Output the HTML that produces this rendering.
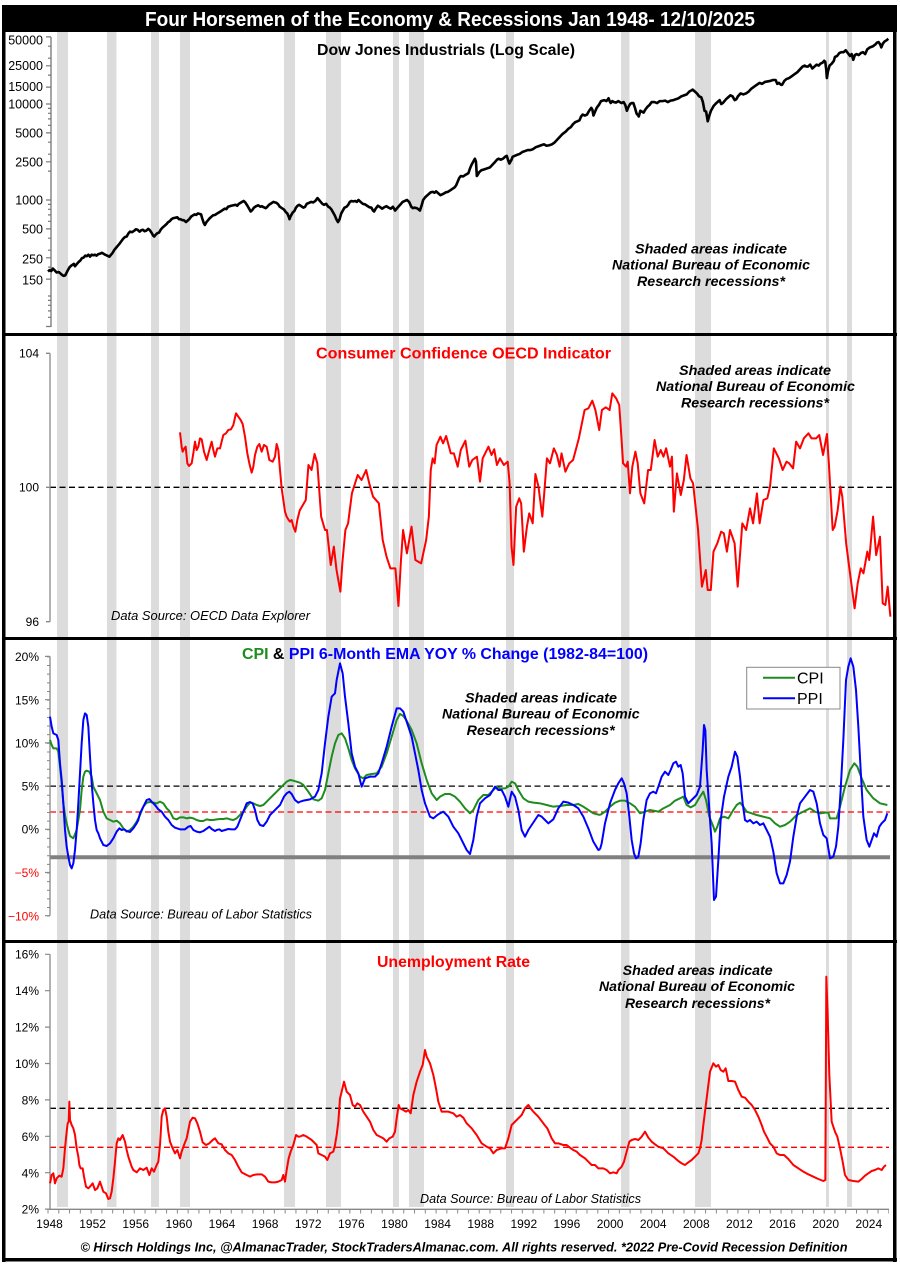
<!DOCTYPE html>
<html><head><meta charset="utf-8">
<style>html,body{margin:0;padding:0;background:#fff;width:900px;height:1265px;overflow:hidden}svg{display:block}</style>
</head><body>
<svg xmlns="http://www.w3.org/2000/svg" width="900" height="1265" viewBox="0 0 900 1265" font-family="'Liberation Sans', Arial, sans-serif">
<rect x="0" y="0" width="900" height="1265" fill="#fff"/>

<!-- recession bands -->
<g fill="#dcdcdc">
<rect x="57" y="32" width="11" height="1175"/>
<rect x="107" y="32" width="9.5" height="1175"/>
<rect x="151" y="32" width="8" height="1175"/>
<rect x="180" y="32" width="10" height="1175"/>
<rect x="284" y="32" width="11" height="1175"/>
<rect x="326" y="32" width="15" height="1175"/>
<rect x="393" y="32" width="6" height="1175"/>
<rect x="409" y="32" width="15" height="1175"/>
<rect x="506" y="32" width="8" height="1175"/>
<rect x="621" y="32" width="8.5" height="1175"/>
<rect x="695" y="32" width="16" height="1175"/>
<rect x="826" y="32" width="3" height="1175"/>
<rect x="847" y="32" width="5" height="1175"/>
</g>

<!-- ================= PANEL 1 : DOW ================= -->
<path d="M51,37V327" stroke="#777" stroke-width="1.3" fill="none"/>
<path d="M46,36.9H51M48,46.2H51M48,58.2H51M46,65.8H51M48,75.1H51M46,87.1H51M46,104H51M48,108.4H51M48,113.3H51M48,118.9H51M48,125.3H51M46,132.9H51M48,142.2H51M48,154.2H51M46,161.8H51M48,171.1H51M46,200H51M48,204.4H51M48,209.3H51M48,214.9H51M48,221.3H51M46,228.9H51M48,238.2H51M48,250.2H51M46,257.8H51M48,267.1H51M46,279.1H51M48,296H51M48,300.4H51M48,305.3H51M48,310.9H51M48,317.3H51M46,326.5H51" stroke="#777" stroke-width="1.2" fill="none"/>
<g font-size="12.5" text-anchor="end" fill="#000">
<text x="43" y="44.5">50000</text>
<text x="43" y="70">25000</text>
<text x="43" y="91">15000</text>
<text x="43" y="108.5">10000</text>
<text x="43" y="137.5">5000</text>
<text x="43" y="166.5">2500</text>
<text x="43" y="204.5">1000</text>
<text x="43" y="233.5">500</text>
<text x="43" y="263.5">250</text>
<text x="43" y="284.5">150</text>
</g>
<g transform="translate(48,488) scale(10.78,-96)">
<polyline fill="none" stroke="#000" stroke-width="2.6" stroke-linejoin="round" vector-effect="non-scaling-stroke" points="0,2.255 0.15,2.27 0.3,2.26 0.45,2.285 0.6,2.27 0.8,2.245 1.0,2.25 1.15,2.235 1.3,2.22 1.45,2.21 1.6,2.215 1.8,2.26 2.0,2.30 2.2,2.32 2.4,2.335 2.5,2.31 2.65,2.33 2.8,2.35 3.0,2.37 3.15,2.395 3.3,2.40 3.45,2.42 3.6,2.415 3.75,2.43 3.9,2.41 4.05,2.43 4.2,2.425 4.35,2.43 4.5,2.42 4.65,2.435 4.8,2.44 5.0,2.45 5.15,2.44 5.3,2.43 5.5,2.42 5.7,2.41 5.85,2.43 6.0,2.45 6.15,2.48 6.3,2.50 6.45,2.52 6.6,2.54 6.8,2.57 7.0,2.60 7.15,2.615 7.3,2.62 7.45,2.65 7.6,2.67 7.8,2.665 8.0,2.68 8.15,2.695 8.3,2.69 8.5,2.67 8.65,2.685 8.8,2.69 8.95,2.675 9.1,2.68 9.3,2.70 9.45,2.685 9.6,2.66 9.75,2.63 9.85,2.62 10.0,2.64 10.15,2.655 10.3,2.66 10.45,2.69 10.6,2.71 10.8,2.73 11.0,2.75 11.15,2.77 11.3,2.78 11.45,2.80 11.6,2.81 11.8,2.815 12.0,2.82 12.15,2.80 12.3,2.80 12.45,2.79 12.6,2.79 12.8,2.77 12.95,2.785 13.1,2.80 13.3,2.83 13.45,2.84 13.6,2.85 13.75,2.845 13.9,2.86 14.05,2.855 14.2,2.85 14.3,2.81 14.45,2.76 14.55,2.74 14.7,2.77 14.85,2.79 15.0,2.81 15.15,2.825 15.3,2.84 15.5,2.845 15.7,2.86 15.85,2.87 16.0,2.88 16.2,2.895 16.4,2.91 16.55,2.905 16.7,2.93 16.85,2.935 17.0,2.94 17.2,2.945 17.4,2.95 17.55,2.94 17.7,2.96 17.85,2.97 18.0,2.98 18.15,2.99 18.3,2.975 18.5,2.94 18.65,2.91 18.8,2.88 18.95,2.895 19.1,2.92 19.3,2.935 19.5,2.945 19.7,2.93 19.85,2.935 20.0,2.925 20.2,2.915 20.35,2.93 20.5,2.95 20.7,2.965 20.9,2.98 21.05,2.975 21.2,2.97 21.35,2.955 21.5,2.93 21.7,2.915 21.9,2.90 22.05,2.875 22.2,2.86 22.35,2.82 22.4,2.80 22.5,2.83 22.7,2.87 22.85,2.885 23.0,2.92 23.15,2.94 23.3,2.95 23.5,2.935 23.7,2.92 23.85,2.93 24.0,2.96 24.2,2.97 24.4,2.98 24.6,2.975 24.8,2.99 25.0,3.02 25.15,3.0 25.3,2.98 25.45,2.96 25.6,2.95 25.8,2.96 26.0,2.93 26.15,2.92 26.3,2.90 26.45,2.87 26.6,2.84 26.75,2.80 26.9,2.77 27.05,2.80 27.2,2.86 27.35,2.89 27.5,2.92 27.7,2.93 27.85,2.95 28.0,2.98 28.15,2.99 28.3,2.985 28.5,2.99 28.65,2.98 28.8,3.0 29.0,2.98 29.2,2.96 29.4,2.955 29.6,2.94 29.8,2.925 30.0,2.92 30.15,2.89 30.25,2.88 30.4,2.91 30.6,2.94 30.75,2.93 31.0,2.91 31.2,2.925 31.4,2.935 31.6,2.92 31.8,2.91 32.0,2.93 32.2,2.89 32.35,2.91 32.5,2.93 32.7,2.955 32.9,2.98 33.1,2.99 33.3,3.0 33.5,2.98 33.7,2.93 33.85,2.915 34.0,2.92 34.2,2.915 34.35,2.905 34.5,2.89 34.65,2.94 34.8,3.0 35.0,3.03 35.2,3.05 35.4,3.07 35.5,3.08 35.7,3.085 35.85,3.075 36.0,3.09 36.2,3.07 36.4,3.05 36.6,3.06 36.9,3.08 37.1,3.085 37.3,3.10 37.5,3.115 37.7,3.13 37.85,3.15 38.0,3.19 38.15,3.23 38.3,3.25 38.5,3.245 38.7,3.26 38.85,3.27 39.0,3.28 39.15,3.33 39.3,3.37 39.45,3.40 39.6,3.43 39.7,3.40 39.78,3.25 39.85,3.26 40.0,3.29 40.2,3.31 40.5,3.32 40.75,3.33 41.0,3.34 41.25,3.37 41.5,3.40 41.65,3.42 41.8,3.43 42.0,3.42 42.2,3.43 42.4,3.45 42.55,3.46 42.7,3.41 42.8,3.38 43.0,3.42 43.1,3.45 43.3,3.46 43.5,3.47 43.75,3.48 44.0,3.50 44.25,3.51 44.5,3.52 44.75,3.52 45.0,3.53 45.25,3.55 45.5,3.56 45.75,3.57 46.0,3.58 46.25,3.565 46.5,3.57 46.75,3.58 47.0,3.60 47.25,3.63 47.5,3.66 47.75,3.69 48.0,3.71 48.25,3.74 48.5,3.76 48.7,3.79 48.9,3.81 49.1,3.82 49.3,3.83 49.45,3.87 49.6,3.89 49.8,3.88 50.0,3.89 50.2,3.93 50.4,3.96 50.5,3.94 50.6,3.88 50.75,3.92 50.9,3.96 51.1,3.99 51.3,4.03 51.45,4.035 51.6,4.04 51.8,4.03 52.0,4.06 52.1,4.03 52.2,4.01 52.35,4.03 52.5,4.02 52.7,4.015 52.9,4.03 53.05,4.02 53.2,4.01 53.4,4.02 53.55,3.99 53.7,3.93 53.85,3.97 54.0,4.0 54.15,4.01 54.3,4.01 54.45,3.96 54.6,3.90 54.75,3.88 54.8,3.87 54.95,3.93 55.1,3.92 55.25,3.91 55.4,3.94 55.6,3.97 55.8,3.99 56.0,4.02 56.25,4.02 56.5,4.01 56.75,4.03 57.0,4.03 57.25,4.035 57.5,4.02 57.75,4.035 58.0,4.04 58.25,4.05 58.5,4.06 58.75,4.08 59.0,4.09 59.25,4.10 59.5,4.13 59.65,4.14 59.8,4.15 60.0,4.13 60.2,4.11 60.4,4.08 60.6,4.07 60.75,4.02 60.9,3.93 61.05,3.92 61.2,3.82 61.35,3.88 61.5,3.93 61.75,3.98 62.0,4.01 62.2,4.03 62.3,4.04 62.45,4.00 62.6,4.01 62.9,4.05 63.1,4.07 63.3,4.09 63.5,4.08 63.7,4.04 63.85,4.05 64.0,4.08 64.25,4.11 64.5,4.10 64.75,4.11 65.0,4.13 65.25,4.16 65.5,4.18 65.75,4.20 66.0,4.22 66.25,4.21 66.5,4.23 66.75,4.235 67.0,4.24 67.25,4.25 67.5,4.25 67.65,4.21 67.8,4.22 68.0,4.20 68.1,4.20 68.3,4.24 68.5,4.26 68.75,4.27 69.0,4.29 69.25,4.31 69.5,4.33 69.75,4.36 70.0,4.39 70.2,4.40 70.35,4.39 70.5,4.39 70.7,4.41 70.9,4.37 71.1,4.39 71.3,4.41 71.5,4.40 71.65,4.42 71.85,4.43 72.0,4.45 72.1,4.44 72.2,4.35 72.25,4.27 72.35,4.34 72.5,4.40 72.7,4.42 72.9,4.45 73.0,4.49 73.2,4.50 73.4,4.53 73.6,4.54 73.8,4.54 74.0,4.56 74.2,4.53 74.4,4.50 74.55,4.52 74.7,4.46 74.85,4.51 75.0,4.52 75.2,4.51 75.4,4.53 75.6,4.54 75.8,4.52 76.0,4.57 76.25,4.59 76.5,4.60 76.75,4.62 76.9,4.64 77.05,4.645 77.2,4.62 77.3,4.59 77.45,4.63 77.6,4.65 77.8,4.665 77.95,4.68"/>
</g>
<text x="317" y="55" font-size="16" font-weight="bold" textLength="258" lengthAdjust="spacingAndGlyphs">Dow Jones Industrials (Log Scale)</text>
<g font-size="14" font-weight="bold" font-style="italic" fill="#000">
<text x="635" y="253.5" textLength="152" lengthAdjust="spacingAndGlyphs">Shaded areas indicate</text>
<text x="612" y="269.5" textLength="198" lengthAdjust="spacingAndGlyphs">National Bureau of Economic</text>
<text x="637" y="286" textLength="148" lengthAdjust="spacingAndGlyphs">Research recessions*</text>
</g>

<!-- ================= PANEL 2 : CONSUMER CONFIDENCE ================= -->
<line x1="50" y1="487.3" x2="892" y2="487.3" stroke="#000" stroke-width="1.3" stroke-dasharray="6 3.5"/>
<path d="M50,353.3V621.7M46,353.3H50M46,487.3H50M46,621.7H50" stroke="#888" stroke-width="1.3" fill="none"/>
<g font-size="12" text-anchor="end">
<text x="39" y="357.5">104</text>
<text x="39" y="491.5">100</text>
<text x="39" y="626">96</text>
</g>
<g transform="translate(0,320) scale(0.333333)">
<polyline fill="none" stroke="#ff0000" stroke-width="2" stroke-linejoin="round" vector-effect="non-scaling-stroke" points="540,337 545,380 548,395 553,385 557,380 562,430 567,438 575,430 580,400 585,365 590,390 595,380 600,355 605,358 612,395 620,420 628,390 635,365 640,390 645,410 652,385 660,385 665,365 670,345 678,340 685,330 693,328 700,315 708,280 715,290 722,300 728,312 735,350 742,400 748,430 755,458 760,440 765,405 772,380 778,372 785,395 792,375 800,380 808,420 818,425 825,410 830,372 835,390 840,450 845,505 850,540 855,575 860,590 866,600 870,605 875,600 880,620 886,635 892,600 900,568"/>
</g>
<g transform="translate(300,330) scale(0.384615,0.333333)">
<polyline fill="none" stroke="#ff0000" stroke-width="2" stroke-linejoin="round" vector-effect="non-scaling-stroke" points="0,540 15,510 22,405 30,420 38,372 45,400 55,560 65,600 70,600 80,705 88,650 95,720 105,785 110,700 118,600 125,580 135,490 150,435 160,450 172,420 180,460 190,500 205,520 215,630 225,680 235,715 248,715 256,828 262,700 268,600 278,670 290,590 300,690 315,700 328,630 335,560 340,420 345,385 350,400 355,345 365,320 372,340 380,318 392,370 400,370 410,410 418,360 430,332 440,410 448,390 460,380 468,455 475,385 490,350 498,375 505,358 512,405 520,385 530,405 540,395 545,460 550,650 555,705 562,530 570,505 575,520 582,665 590,590 596,550 605,580 612,432 620,470 630,560 635,490 642,385 650,400 660,355 668,375 675,410 680,370 690,425 700,400 710,390 725,325 740,240 750,235 760,212 768,240 778,300 785,240 795,232 805,240 812,190 822,205 830,225 835,310 840,400 848,410 852,395 858,490 864,410 872,365 878,400 885,490 895,520 905,420 912,420 922,330 930,380 938,360 945,380 952,355 962,410 967,380 972,545 980,430 990,495 998,450 1005,375 1015,445 1022,460 1035,600 1045,770 1055,720 1060,780 1068,780 1075,665 1085,640 1095,605 1102,610 1110,665 1118,600 1130,640 1138,770 1150,580 1160,600 1170,535 1178,580 1188,490 1195,580 1205,510 1215,505 1222,470 1232,355 1245,385 1255,420 1265,395 1272,400 1282,415 1290,335 1300,355 1310,325 1322,310 1330,325 1342,325 1350,315 1360,375 1370,312 1375,400 1380,500 1385,600 1390,590 1398,540 1405,470 1410,500 1420,640 1430,730 1442,835 1450,760 1458,715 1465,730 1475,665 1480,690 1490,560 1498,675 1508,620 1515,820 1522,825 1528,770 1535,860"/>
</g>
<text x="316" y="358.5" font-size="16" font-weight="bold" fill="#ff0000" textLength="295" lengthAdjust="spacingAndGlyphs">Consumer Confidence OECD Indicator</text>
<g font-size="14" font-weight="bold" font-style="italic" fill="#000">
<text x="679" y="375" textLength="152" lengthAdjust="spacingAndGlyphs">Shaded areas indicate</text>
<text x="656" y="391" textLength="199" lengthAdjust="spacingAndGlyphs">National Bureau of Economic</text>
<text x="681" y="407.3" textLength="148" lengthAdjust="spacingAndGlyphs">Research recessions*</text>
</g>
<text x="111" y="620" font-size="13" font-style="italic" textLength="199" lengthAdjust="spacingAndGlyphs">Data Source:  OECD Data Explorer</text>

<!-- ================= PANEL 3 : CPI & PPI ================= -->
<line x1="50" y1="786.1" x2="890" y2="786.1" stroke="#000" stroke-width="1.3" stroke-dasharray="6 3.5"/>
<line x1="50" y1="812" x2="890" y2="812" stroke="#ff0000" stroke-width="1.3" stroke-dasharray="6 3.5"/>
<line x1="50" y1="857.3" x2="890" y2="857.3" stroke="#808080" stroke-width="4"/>
<path d="M50,656.4V915.7" stroke="#888" stroke-width="1.3" fill="none"/>
<line x1="48.5" y1="656.4" x2="48.5" y2="916.5" stroke="#888" stroke-width="3" stroke-dasharray="1 7.643"/>
<path d="M45,656.4H50M45,699.7H50M45,742.9H50M45,786.1H50M45,829.3H50M45,872.5H50M45,915.7H50" stroke="#888" stroke-width="1.2" fill="none"/>
<g font-size="12" text-anchor="end">
<text x="39" y="661">20%</text>
<text x="39" y="704.5">15%</text>
<text x="39" y="747.5">10%</text>
<text x="39" y="790.3">5%</text>
<text x="39" y="833.5">0%</text>
<text x="39" y="877" fill="#ff0000">−5%</text>
<text x="39" y="920.3" fill="#ff0000">−10%</text>
</g>
<g transform="translate(0,630) scale(0.333333)" fill="none" stroke-width="2" stroke-linejoin="round">
<polyline stroke="#1e8c1e" vector-effect="non-scaling-stroke" points="150,330 155,345 160,355 170,355 175,365 180,410 185,460 190,520 195,555 200,580 205,600 210,618 220,625 230,600 240,540 245,480 250,440 255,425 260,422 268,425 275,440 280,470 290,490 300,510 310,545 320,565 330,570 340,575 350,572 360,580 370,595 380,605 390,600 400,590 410,575 420,555 430,530 440,518 450,516 460,518 470,520 480,515 490,520 500,535 510,545 520,565 530,568 540,562 550,562 560,565 570,563 580,565 590,570 600,573 610,573 620,568 630,570 640,570 650,568 660,567 670,567 680,565 690,568 700,570 710,565 720,555 730,545 740,530 750,518 760,520 770,525 780,528 790,525 800,515 810,505 820,495 830,485 840,475 850,465 860,455 870,450 880,452 890,455 900,458"/>
<polyline stroke="#0000ff" vector-effect="non-scaling-stroke" points="150,260 155,290 160,310 170,315 175,330 180,400 185,450 190,520 195,600 200,650 205,680 210,705 215,715 220,700 225,660 230,600 235,520 240,430 245,340 250,270 255,250 260,255 265,290 270,380 275,460 280,520 285,570 290,600 295,610 300,625 310,645 320,648 330,640 340,625 350,605 358,595 365,600 372,598 380,603 390,606 400,595 410,580 415,570 420,550 430,530 440,510 448,507 455,515 465,525 475,538 485,545 495,560 505,570 515,585 525,593 540,598 555,598 565,590 572,588 580,600 590,605 600,607 610,603 620,596 628,590 635,597 645,603 650,600 658,598 665,603 675,600 685,597 695,598 705,598 712,590 720,570 730,545 740,520 750,516 758,520 765,540 772,570 780,585 790,588 800,575 810,555 820,545 830,535 840,525 852,500 860,490 868,485 875,492 885,510 895,518 900,515"/>
</g>
<g transform="translate(200,630) scale(0.333333)" fill="none" stroke-width="2" stroke-linejoin="round">
<polyline stroke="#1e8c1e" vector-effect="non-scaling-stroke" points="300,458 310,465 325,485 340,508 355,512 365,505 375,480 385,430 395,380 405,340 415,315 425,310 435,325 445,355 455,390 465,415 480,440 490,445 500,435 515,432 530,430 545,410 560,370 575,320 590,270 600,252 610,258 620,272 635,300 650,340 665,400 680,450 695,490 710,510 720,500 735,492 750,492 765,500 780,515 795,535 810,550 820,540 835,510 850,495 865,495 880,480 890,470 900,475 915,475 925,470 935,455 945,460 955,480 970,505 985,515 1000,518 1020,520 1040,525 1060,530 1080,528 1100,525 1120,525 1135,522 1150,530 1165,540 1180,550 1200,555"/>
<polyline stroke="#0000ff" vector-effect="non-scaling-stroke" points="300,515 310,512 330,508 345,500 355,480 365,430 375,340 385,260 395,200 405,190 410,150 420,100 428,130 435,200 445,280 455,370 465,410 475,430 485,470 495,445 510,440 525,440 535,430 545,400 560,350 575,290 590,235 600,235 610,245 620,275 635,320 645,370 655,420 665,480 675,520 690,560 700,565 712,555 720,550 730,545 745,560 760,590 775,610 790,640 800,660 810,672 820,630 830,560 840,520 855,505 870,495 885,470 895,480 905,480 915,500 925,530 935,485 945,500 955,540 965,600 975,620 985,600 995,585 1005,570 1015,555 1025,560 1035,570 1045,580 1060,568 1075,535 1090,515 1105,518 1120,525 1135,535 1150,560 1165,595 1180,635 1195,660 1200,658"/>
</g>
<g transform="translate(600,630) scale(0.333333)" fill="none" stroke-width="2" stroke-linejoin="round">
<polyline stroke="#1e8c1e" vector-effect="non-scaling-stroke" points="0,555 15,545 30,530 45,518 60,512 75,512 90,520 105,530 120,550 135,545 150,540 165,543 175,545 190,535 210,525 225,512 240,505 250,500 260,525 272,532 285,525 300,500 310,485 318,510 328,560 340,590 345,605 352,590 360,565 372,560 385,565 400,540 410,525 420,518 430,530 440,545 455,550 470,555 490,560 510,565 525,580 540,590 555,585 570,575 590,555 610,545 630,535 645,545 660,550 675,548 685,548 690,565 700,565 710,565 720,530 735,470 750,420 763,400 772,410 785,445 800,480 820,505 840,520 862,525"/>
<polyline stroke="#0000ff" vector-effect="non-scaling-stroke" points="0,658 5,640 15,580 30,520 45,480 55,460 65,445 72,460 80,490 88,560 95,630 102,670 108,685 115,680 122,640 130,570 140,510 150,490 160,485 168,490 175,470 185,440 195,425 205,435 212,420 220,400 228,395 235,410 242,405 248,430 255,500 265,520 275,510 290,495 300,470 308,360 312,285 316,300 320,420 328,540 335,640 342,810 348,800 355,690 362,570 372,500 385,440 395,410 405,365 412,380 420,440 428,520 435,570 442,575 450,570 460,580 470,575 480,585 490,580 500,600 510,620 520,665 530,730 540,760 550,760 560,735 570,695 580,620 590,560 600,520 615,500 630,480 640,485 650,520 660,580 670,615 680,625 690,685 700,680 708,650 715,590 722,480 730,330 738,150 745,110 752,85 760,110 768,180 775,290 782,420 790,560 800,630 808,650 815,630 822,610 830,620 838,590 845,580 855,570 862,550"/>
</g>
<text x="242" y="659" font-size="16" font-weight="bold" textLength="406" lengthAdjust="spacingAndGlyphs"><tspan fill="#1e8c1e">CPI</tspan><tspan fill="#000"> &amp; </tspan><tspan fill="#0000ff">PPI 6-Month EMA YOY % Change (1982-84=100)</tspan></text>
<g font-size="14" font-weight="bold" font-style="italic" fill="#000">
<text x="465" y="702.7" textLength="152" lengthAdjust="spacingAndGlyphs">Shaded areas indicate</text>
<text x="442" y="718.3" textLength="197.6" lengthAdjust="spacingAndGlyphs">National Bureau of Economic</text>
<text x="466.7" y="735" textLength="148" lengthAdjust="spacingAndGlyphs">Research recessions*</text>
</g>
<rect x="746.7" y="667.3" width="93.3" height="41.7" fill="#fff" stroke="#888" stroke-width="1"/>
<line x1="763" y1="677.7" x2="795" y2="677.7" stroke="#1e8c1e" stroke-width="2"/>
<line x1="763" y1="698.3" x2="795" y2="698.3" stroke="#0000ff" stroke-width="2"/>
<text x="797" y="683.5" font-size="16">CPI</text>
<text x="797" y="704" font-size="16">PPI</text>
<text x="90" y="918.7" font-size="13" font-style="italic" textLength="222" lengthAdjust="spacingAndGlyphs">Data Source: Bureau of Labor Statistics</text>

<!-- ================= PANEL 4 : UNEMPLOYMENT ================= -->
<line x1="50" y1="1108.3" x2="889" y2="1108.3" stroke="#000" stroke-width="1.3" stroke-dasharray="6 3.5"/>
<line x1="50" y1="1147.3" x2="889" y2="1147.3" stroke="#ff0000" stroke-width="1.3" stroke-dasharray="6 3.5"/>
<path d="M50,954.3V1209.3H889" stroke="#888" stroke-width="1.3" fill="none"/>
<path d="M45,954.3H50M45,990.7H50M45,1027.1H50M45,1063.5H50M45,1099.9H50M45,1136.3H50M45,1172.7H50M45,1209.1H50" stroke="#888" stroke-width="1.2" fill="none"/>
<line x1="47.5" y1="1211.5" x2="889" y2="1211.5" stroke="#888" stroke-width="4" stroke-dasharray="1 9.78"/>
<g font-size="12" text-anchor="end">
<text x="39" y="958.6">16%</text>
<text x="39" y="995">14%</text>
<text x="39" y="1031.6">12%</text>
<text x="39" y="1068">10%</text>
<text x="39" y="1104.6">8%</text>
<text x="39" y="1141">6%</text>
<text x="39" y="1177.3">4%</text>
<text x="39" y="1213.6">2%</text>
</g>
<g transform="translate(0,935) scale(0.333333)" fill="none" stroke="#ff0000" stroke-width="2" stroke-linejoin="round">
<polyline vector-effect="non-scaling-stroke" points="150,745 155,720 160,715 165,745 170,730 178,722 185,725 190,700 195,640 200,590 203,565 206,560 208,500 210,555 215,570 220,580 225,600 230,640 235,665 238,690 242,700 248,700 252,725 258,755 265,760 270,755 278,745 285,765 292,760 300,740 310,770 318,775 325,792 330,790 335,770 340,730 345,680 350,625 355,610 360,615 368,600 375,620 380,645 385,665 390,680 395,695 400,705 410,712 420,700 430,705 440,698 448,720 455,700 462,710 470,690 475,680 480,630 485,545 490,525 495,520 500,545 505,590 510,620 518,640 525,655 532,645 540,670 545,650 552,630 560,610 565,585 570,560 578,548 585,550 592,565 600,590 608,622 618,630 628,625 638,615 645,610 655,625 665,628 675,645 685,655 695,660 705,675 715,695 725,712 740,720 750,725 760,720 772,718 785,718 795,725 805,740 815,742 825,742 835,740 845,735 850,720 855,740 860,705 866,670 872,650 880,630 888,600 895,605 900,605"/>
</g>
<g transform="translate(300,935) scale(0.333333)" fill="none" stroke="#ff0000" stroke-width="2" stroke-linejoin="round">
<polyline vector-effect="non-scaling-stroke" points="0,605 10,600 20,605 35,615 50,630 55,655 65,660 75,665 82,675 90,655 100,650 105,630 110,600 115,560 120,490 125,470 132,440 140,470 150,480 158,510 165,515 172,505 180,510 190,530 200,545 210,560 220,585 230,600 240,605 250,610 260,620 268,610 278,605 285,590 290,550 296,510 300,520 310,525 318,530 325,525 332,535 340,480 350,440 360,410 368,390 375,345 380,365 390,385 400,420 408,460 415,500 425,530 435,530 445,530 460,535 470,545 480,540 490,548 500,565 515,580 530,600 545,625 560,635 570,640 580,655 590,645 605,640 615,640 625,610 635,570 650,555 665,540 675,520 685,510 692,520 700,530 715,545 730,565 742,580 755,610 765,625 775,625 790,630 800,630 810,638 820,645 830,650 840,660 855,670 865,680 875,690 885,690 895,700 900,700"/>
</g>
<g transform="translate(600,935) scale(0.333333)" fill="none" stroke="#ff0000" stroke-width="2" stroke-linejoin="round">
<polyline vector-effect="non-scaling-stroke" points="0,700 10,700 20,705 30,715 40,712 50,715 55,705 65,695 72,680 80,650 88,620 95,615 105,612 115,615 125,605 135,590 145,608 155,620 165,628 175,635 190,640 205,655 220,665 235,678 245,685 255,690 265,682 275,675 285,665 295,655 300,640 305,615 310,570 320,490 330,410 340,385 348,395 355,390 362,405 370,410 377,400 385,438 395,438 405,440 415,465 425,485 435,488 445,500 455,510 465,525 475,545 485,570 492,590 500,605 510,625 520,635 530,655 540,660 552,660 565,672 580,690 595,700 610,710 625,718 640,725 655,732 670,738 676,735 679,125 683,240 688,420 695,560 705,590 712,605 720,640 728,680 735,720 745,735 760,738 775,740 785,732 795,722 805,715 815,708 825,705 835,700 845,705 852,695 858,690"/>
</g>
<text x="377" y="967" font-size="16" font-weight="bold" fill="#ff0000" textLength="153" lengthAdjust="spacingAndGlyphs">Unemployment Rate</text>
<g font-size="14" font-weight="bold" font-style="italic" fill="#000">
<text x="622.7" y="975" textLength="150" lengthAdjust="spacingAndGlyphs">Shaded areas indicate</text>
<text x="599" y="991" textLength="196" lengthAdjust="spacingAndGlyphs">National Bureau of Economic</text>
<text x="625" y="1008" textLength="145" lengthAdjust="spacingAndGlyphs">Research recessions*</text>
</g>
<text x="420" y="1203" font-size="13" font-style="italic" textLength="221" lengthAdjust="spacingAndGlyphs">Data Source: Bureau of Labor Statistics</text>

<g font-size="12" text-anchor="middle">
<text x="49.5" y="1228">1948</text>
<text x="92.6" y="1228">1952</text>
<text x="135.7" y="1228">1956</text>
<text x="178.9" y="1228">1960</text>
<text x="222" y="1228">1964</text>
<text x="265.1" y="1228">1968</text>
<text x="308.2" y="1228">1972</text>
<text x="351.3" y="1228">1976</text>
<text x="394.5" y="1228">1980</text>
<text x="437.6" y="1228">1984</text>
<text x="480.7" y="1228">1988</text>
<text x="523.8" y="1228">1992</text>
<text x="566.9" y="1228">1996</text>
<text x="610.1" y="1228">2000</text>
<text x="653.2" y="1228">2004</text>
<text x="696.3" y="1228">2008</text>
<text x="739.4" y="1228">2012</text>
<text x="782.5" y="1228">2016</text>
<text x="825.7" y="1228">2020</text>
<text x="868.8" y="1228">2024</text>
</g>

<text x="80.5" y="1251.5" font-size="13" font-weight="bold" font-style="italic" textLength="767" lengthAdjust="spacingAndGlyphs">© Hirsch Holdings Inc, @AlmanacTrader, StockTradersAlmanac.com. All rights reserved. *2022 Pre-Covid Recession Definition</text>

<!-- frame & dividers -->
<rect x="3" y="5" width="894" height="27" fill="#000"/>
<text x="145" y="26" font-size="20" font-weight="bold" fill="#fff" textLength="610" lengthAdjust="spacingAndGlyphs">Four Horsemen of the Economy &amp; Recessions Jan 1948- 12/10/2025</text>
<rect x="2" y="5" width="3.5" height="1257" fill="#000"/>
<rect x="893" y="5" width="3.5" height="1257" fill="#000"/>
<rect x="2" y="1258" width="895" height="3.5" fill="#000"/>
<rect x="2" y="333" width="895" height="3" fill="#000"/>
<rect x="2" y="637" width="895" height="3" fill="#000"/>
<rect x="2" y="940" width="895" height="3" fill="#000"/>
</svg>
</body></html>
